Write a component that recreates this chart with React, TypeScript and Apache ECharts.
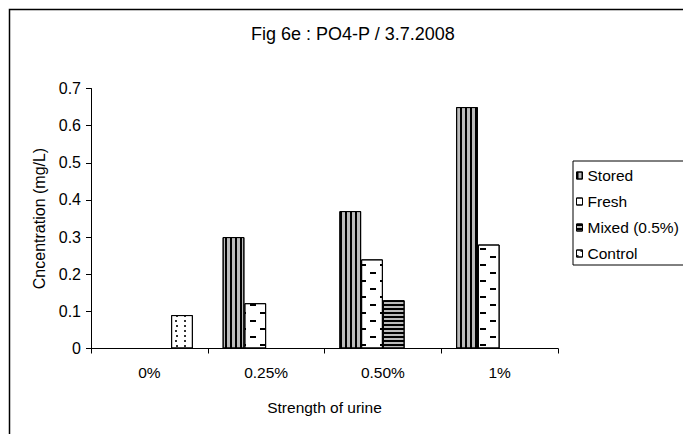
import React, { useEffect, useRef } from "react";
import * as echarts from "echarts";

const categories = ["0%", "0.25%", "0.50%", "1%"];
const stored = [null, 0.3, 0.37, 0.65];
const fresh = [null, 0.122, 0.24, 0.28];
const mixed = [null, null, 0.13, null];
const control = [0.09, null, null, null];
const yTicks = { min: 0, max: 0.7, interval: 0.1 };

const FONT = "Liberation Sans, Arial, sans-serif";
const FS = 15.5;

export default function App() {
  const ref = useRef<HTMLDivElement>(null);
  useEffect(() => {
    if (!ref.current) return;
    const chart = echarts.init(ref.current, null, { renderer: "svg" });
    const barBase = {
      type: "bar",
      barGap: "0%",
      barCategoryGap: "25.5%",
      itemStyle: { color: "#fff", borderColor: "#000", borderWidth: 1 },
    };
    const option: any = {
      animation: false,
      textStyle: { fontFamily: FONT, color: "#000" },
      title: {
        text: "Fig 6e : PO4-P / 3.7.2008",
        left: 251,
        top: 25,
        padding: 0,
        textStyle: { fontFamily: FONT, fontSize: 18, fontWeight: "normal", color: "#000" },
      },
      graphic: [
        {
          type: "rect",
          shape: { x: 9.5, y: 9.5, width: 700, height: 460 },
          style: { fill: "none", stroke: "#000", lineWidth: 1.5 },
          silent: true,
        },
      ],
      legend: {
        orient: "vertical",
        left: 573,
        top: 161,
        padding: [6, 10, 3, 3],
        itemWidth: 6,
        itemHeight: 7,
        itemGap: 9,
        icon: "rect",
        borderColor: "#000",
        borderWidth: 1,
        selectedMode: false,
        itemStyle: { borderColor: "#000", borderWidth: 1 },
        textStyle: { fontFamily: FONT, fontSize: FS, color: "#000", lineHeight: 17 },
        data: ["Stored", "Fresh", "Mixed (0.5%)", "Control"],
      },
      grid: { left: 91, right: 125, top: 88.5, bottom: 85.5, containLabel: false },
      xAxis: {
        type: "category",
        data: categories,
        name: "Strength of urine",
        nameLocation: "middle",
        nameGap: 51,
        nameTextStyle: { fontFamily: FONT, fontSize: FS, color: "#000" },
        axisLine: { lineStyle: { color: "#000", width: 1 } },
        axisTick: { show: true, length: 5, lineStyle: { color: "#000" } },
        axisLabel: { fontFamily: FONT, fontSize: FS, color: "#000", margin: 16 },
      },
      yAxis: {
        type: "value",
        min: yTicks.min,
        max: yTicks.max,
        interval: yTicks.interval,
        name: "Cncentration (mg/L)",
        nameLocation: "middle",
        nameGap: 43,
        nameTextStyle: { fontFamily: FONT, fontSize: 16, color: "#000" },
        axisLine: { show: true, lineStyle: { color: "#000", width: 1 } },
        axisTick: { show: true, length: 5, lineStyle: { color: "#000" } },
        axisLabel: { fontFamily: FONT, fontSize: 16, color: "#000", margin: 10 },
        splitLine: { show: false },
      },
      series: [
        {
          ...barBase,
          name: "Stored",
          data: stored,
          itemStyle: {
            ...barBase.itemStyle,
            color: "#bbb",
            decal: { symbol: "rect", color: "#000", dashArrayX: [1.2, 2.2], dashArrayY: [10, 0], symbolSize: 1 },
          },
        },
        {
          ...barBase,
          name: "Fresh",
          data: fresh,
          itemStyle: {
            ...barBase.itemStyle,
            decal: {
              symbol: "rect",
              color: "#000",
              dashArrayX: [[6, 14], [0, 10, 6, 4]],
              dashArrayY: [2, 5.5],
              symbolSize: 1,
            },
          },
        },
        {
          ...barBase,
          name: "Mixed (0.5%)",
          data: mixed,
          itemStyle: {
            ...barBase.itemStyle,
            color: "#bbb",
            decal: { symbol: "rect", color: "#000", dashArrayX: [10, 0], dashArrayY: [1.2, 1.8], symbolSize: 1 },
          },
        },
        {
          ...barBase,
          name: "Control",
          data: control,
          itemStyle: {
            ...barBase.itemStyle,
            decal: {
              symbol: "rect",
              color: "#333",
              dashArrayX: [[1.6, 5.8], [0, 3.7, 1.6, 2.1]],
              dashArrayY: [1.6, 2.4],
              symbolSize: 1,
            },
          },
        },
      ],
    };
    chart.setOption(option);
    return () => chart.dispose();
  }, []);
  return (
    <div
      ref={ref}
      style={{ position: "fixed", left: 0, top: 0, width: 683, height: 434, background: "#fff" }}
    />
  );
}
